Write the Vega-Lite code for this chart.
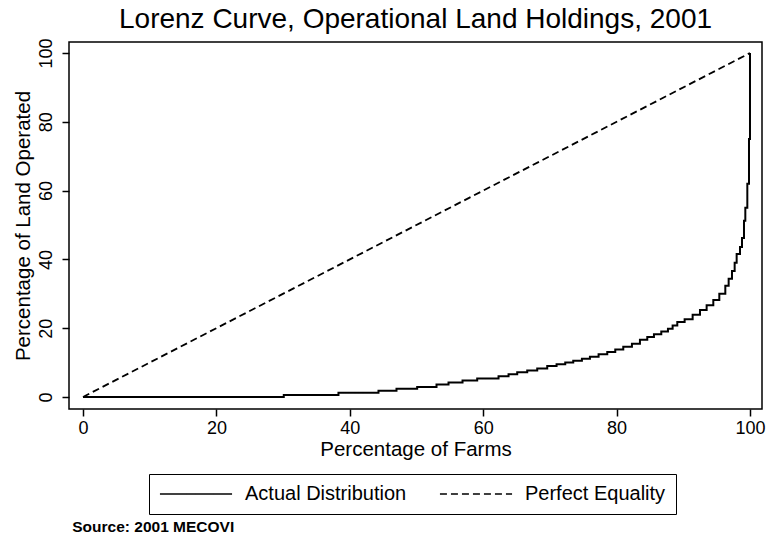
{
  "$schema": "https://vega.github.io/schema/vega-lite/v6.json",
  "background": "white",
  "padding": {"left": 12, "top": 5, "right": 5, "bottom": 4},
  "title": {
    "text": "Source: 2001 MECOVI",
    "orient": "bottom",
    "anchor": "start",
    "dx": 60,
    "offset": 5,
    "fontSize": 15.5,
    "fontWeight": "bold",
    "font": "Liberation Sans",
    "color": "black"
  },
  "vconcat": [
    {
      "title": {
        "text": "Lorenz Curve, Operational Land Holdings, 2001",
        "anchor": "middle",
        "fontSize": 28,
        "fontWeight": "normal",
        "font": "Liberation Sans",
        "color": "black",
        "offset": 4
      },
      "width": 693,
      "height": 367,
      "layer": [
        {
          "data": {
            "values": [
              {"farms": 0, "land": 0, "series": "Actual Distribution"},
              {"farms": 30.1, "land": 0.6, "series": "Actual Distribution"},
              {"farms": 38.3, "land": 1.2, "series": "Actual Distribution"},
              {"farms": 44.3, "land": 1.8, "series": "Actual Distribution"},
              {"farms": 47.0, "land": 2.4, "series": "Actual Distribution"},
              {"farms": 50.1, "land": 2.9, "series": "Actual Distribution"},
              {"farms": 53.0, "land": 3.6, "series": "Actual Distribution"},
              {"farms": 54.8, "land": 4.2, "series": "Actual Distribution"},
              {"farms": 56.9, "land": 4.8, "series": "Actual Distribution"},
              {"farms": 59.1, "land": 5.4, "series": "Actual Distribution"},
              {"farms": 62.3, "land": 6.0, "series": "Actual Distribution"},
              {"farms": 63.8, "land": 6.6, "series": "Actual Distribution"},
              {"farms": 65.1, "land": 7.2, "series": "Actual Distribution"},
              {"farms": 66.6, "land": 7.7, "series": "Actual Distribution"},
              {"farms": 68.1, "land": 8.3, "series": "Actual Distribution"},
              {"farms": 69.6, "land": 9.0, "series": "Actual Distribution"},
              {"farms": 71.0, "land": 9.5, "series": "Actual Distribution"},
              {"farms": 72.3, "land": 10.0, "series": "Actual Distribution"},
              {"farms": 73.5, "land": 10.5, "series": "Actual Distribution"},
              {"farms": 74.8, "land": 11.1, "series": "Actual Distribution"},
              {"farms": 76.0, "land": 11.7, "series": "Actual Distribution"},
              {"farms": 77.3, "land": 12.4, "series": "Actual Distribution"},
              {"farms": 78.6, "land": 13.1, "series": "Actual Distribution"},
              {"farms": 79.8, "land": 13.8, "series": "Actual Distribution"},
              {"farms": 81.0, "land": 14.6, "series": "Actual Distribution"},
              {"farms": 82.3, "land": 15.5, "series": "Actual Distribution"},
              {"farms": 83.5, "land": 16.6, "series": "Actual Distribution"},
              {"farms": 84.6, "land": 17.4, "series": "Actual Distribution"},
              {"farms": 85.6, "land": 18.2, "series": "Actual Distribution"},
              {"farms": 86.7, "land": 19.0, "series": "Actual Distribution"},
              {"farms": 87.7, "land": 19.8, "series": "Actual Distribution"},
              {"farms": 88.4, "land": 20.8, "series": "Actual Distribution"},
              {"farms": 89.1, "land": 21.8, "series": "Actual Distribution"},
              {"farms": 90.2, "land": 22.6, "series": "Actual Distribution"},
              {"farms": 91.4, "land": 23.9, "series": "Actual Distribution"},
              {"farms": 92.5, "land": 25.3, "series": "Actual Distribution"},
              {"farms": 93.5, "land": 26.7, "series": "Actual Distribution"},
              {"farms": 94.5, "land": 28.2, "series": "Actual Distribution"},
              {"farms": 95.4, "land": 30.0, "series": "Actual Distribution"},
              {"farms": 96.3, "land": 32.3, "series": "Actual Distribution"},
              {"farms": 96.8, "land": 34.4, "series": "Actual Distribution"},
              {"farms": 97.3, "land": 36.6, "series": "Actual Distribution"},
              {"farms": 97.7, "land": 39.0, "series": "Actual Distribution"},
              {"farms": 98.0, "land": 41.6, "series": "Actual Distribution"},
              {"farms": 98.5, "land": 43.6, "series": "Actual Distribution"},
              {"farms": 98.8, "land": 46.2, "series": "Actual Distribution"},
              {"farms": 99.1, "land": 51.2, "series": "Actual Distribution"},
              {"farms": 99.3, "land": 55.0, "series": "Actual Distribution"},
              {"farms": 99.6, "land": 62.0, "series": "Actual Distribution"},
              {"farms": 99.85, "land": 75.0, "series": "Actual Distribution"},
              {"farms": 100, "land": 100, "series": "Actual Distribution"}
            ]
          },
          "mark": {"type": "line", "interpolate": "step-after", "color": "black", "strokeWidth": 2, "clip": false},
          "encoding": {
            "x": {"field": "farms", "type": "quantitative"},
            "y": {"field": "land", "type": "quantitative"},
            "strokeDash": {"field": "series", "type": "nominal"}
          }
        },
        {
          "data": {
            "values": [
              {"farms": 0, "land": 0, "series": "Perfect Equality"},
              {"farms": 100, "land": 100, "series": "Perfect Equality"}
            ]
          },
          "mark": {"type": "line", "color": "black", "strokeWidth": 1.8, "clip": false},
          "encoding": {
            "x": {"field": "farms", "type": "quantitative"},
            "y": {"field": "land", "type": "quantitative"},
            "strokeDash": {"field": "series", "type": "nominal"}
          }
        }
      ],
      "encoding": {
        "x": {
          "field": "farms",
          "type": "quantitative",
          "title": "Percentage of Farms",
          "scale": {"domain": [-2.1, 101.8], "nice": false, "zero": false},
          "axis": {"values": [0, 20, 40, 60, 80, 100], "titlePadding": 2, "labelPadding": 3}
        },
        "y": {
          "field": "land",
          "type": "quantitative",
          "title": "Percentage of Land Operated",
          "scale": {"domain": [-3.5, 103.2], "nice": false, "zero": false},
          "axis": {"values": [0, 20, 40, 60, 80, 100], "labelAngle": -90, "labelAlign": "center", "labelBaseline": "bottom", "labelPadding": 7, "titlePadding": 4}
        },
        "strokeDash": {
          "field": "series",
          "type": "nominal",
          "scale": {"domain": ["Actual Distribution", "Perfect Equality"], "range": [[1, 0], [7, 4]]},
          "legend": {
            "title": null,
            "orient": "none",
            "legendX": 80,
            "legendY": 432,
            "direction": "horizontal",
            "symbolType": "stroke",
            "symbolSize": 5200,
            "symbolStrokeWidth": 1.5,
            "symbolStrokeColor": "black",
            "clipHeight": 20,
            "labelFontSize": 20,
            "labelColor": "black",
            "labelFont": "Liberation Sans",
            "labelOffset": 12,
            "columnPadding": 32,
            "padding": 10,
            "strokeColor": "black",
            "labelLimit": 300
          }
        }
      }
    }
  ],
  "config": {
    "view": {"stroke": "black", "strokeWidth": 1.5},
    "axis": {
      "grid": false,
      "domain": false,
      "tickColor": "black",
      "tickSize": 7,
      "tickWidth": 1.5,
      "labelColor": "black",
      "labelFontSize": 18,
      "labelFont": "Liberation Sans",
      "titleColor": "black",
      "titleFontSize": 20.5,
      "titleFontWeight": "normal",
      "titleFont": "Liberation Sans"
    }
  }
}
